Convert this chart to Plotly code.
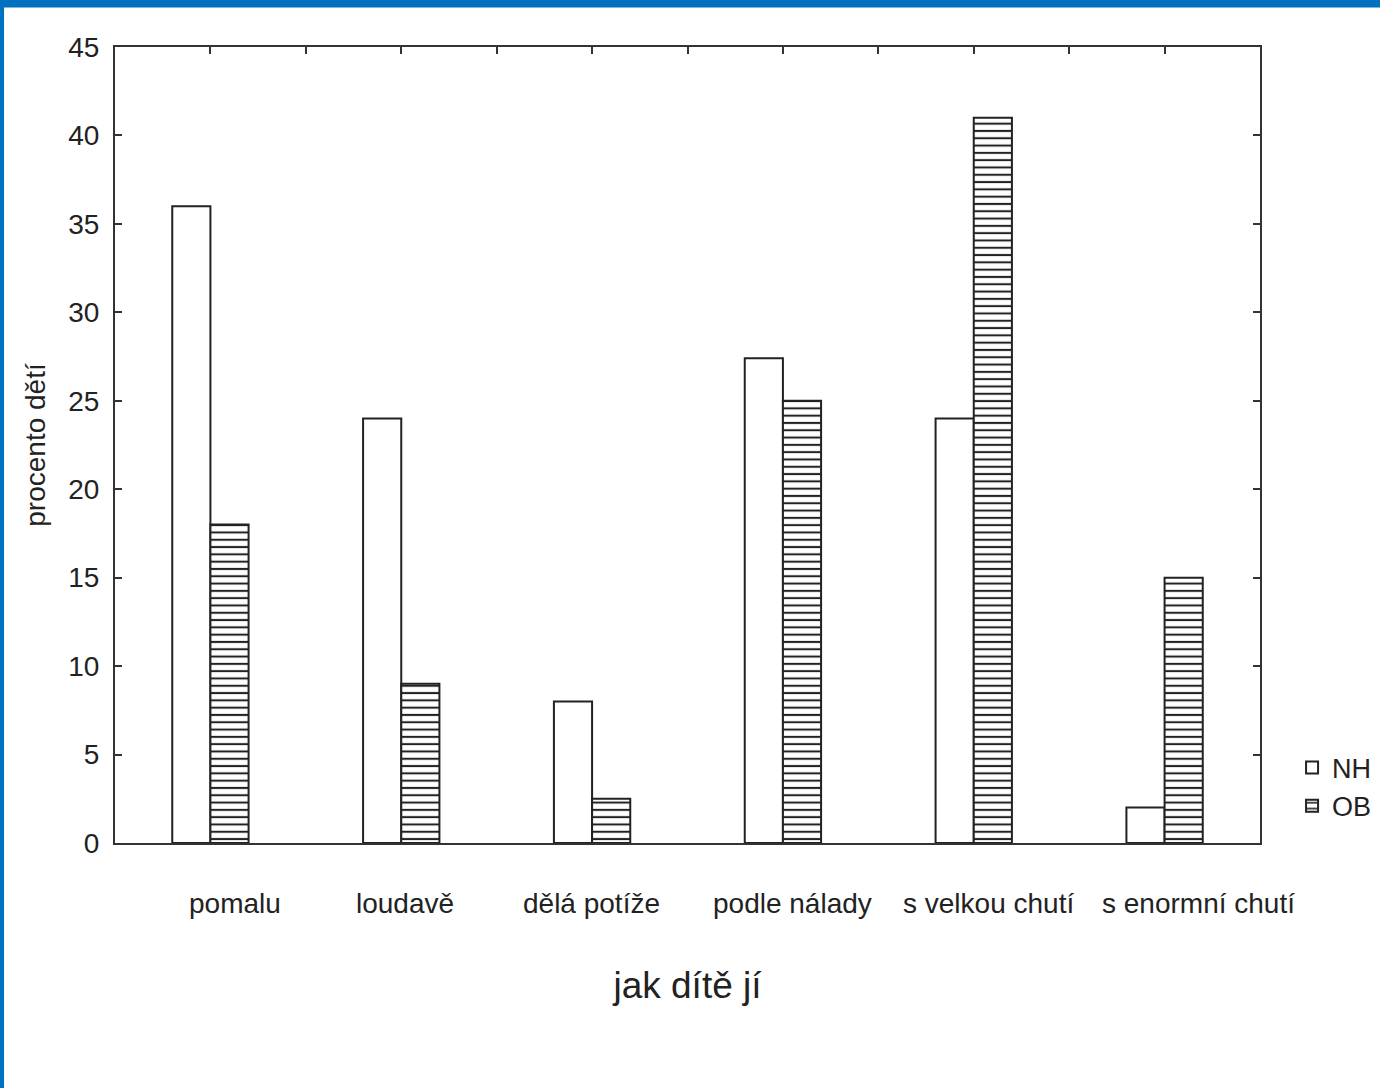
import plotly.graph_objects as go

categories = ["pomalu", "loudavě", "dělá potíže", "podle nálady", "s velkou chutí", "s enormní chutí"]
nh_values = [36, 24, 8, 27.4, 24, 2]
ob_values = [18, 9, 2.5, 25, 41, 15]
y_ticks = [0, 5, 10, 15, 20, 25, 30, 35, 40, 45]

# horizontal pixel offsets of the category labels (style only)
label_shift = [25, 4, -1, 10, 15, 34]

FONT = "Liberation Sans, Arial, sans-serif"
INK = "#222222"
LINE = "#333333"

fig = go.Figure()
fig.add_trace(go.Bar(
    name="NH", x=categories, y=nh_values,
    marker=dict(color="white", line=dict(color=INK, width=2)),
))
fig.add_trace(go.Bar(
    name="OB", x=categories, y=ob_values,
    marker=dict(color="white", line=dict(color=INK, width=2),
                pattern=dict(shape="-", size=7.3, solidity=0.28,
                             fgcolor=INK, bgcolor="white", fillmode="replace")),
))
# invisible trace to anchor the top tick axis
fig.add_trace(go.Scatter(x=[0], y=[0], xaxis="x2", mode="markers",
                         marker=dict(opacity=0), showlegend=False, hoverinfo="skip"))

annotations = [
    dict(x=c, y=0, xref="x", yref="paper", text=c, showarrow=False,
         xanchor="center", yanchor="middle", xshift=s, yshift=-60,
         font=dict(family=FONT, size=28, color=INK))
    for c, s in zip(categories, label_shift)
]

fig.update_layout(
    width=1380, height=1088,
    margin=dict(l=115, r=120, t=47, b=245, autoexpand=False),
    paper_bgcolor="white", plot_bgcolor="white",
    barmode="group", bargap=0.6, bargroupgap=0,
    font=dict(family=FONT, size=28, color=INK),
    showlegend=True,
    legend=dict(x=1.028, y=0.125, xanchor="left", yanchor="top",
                font=dict(size=27, color=INK), itemwidth=30,
                tracegroupgap=0, bgcolor="rgba(0,0,0,0)"),
    xaxis=dict(
        type="category", range=[-0.5, 5.5],
        showline=True, linecolor=LINE, linewidth=2, mirror=True,
        ticks="", showgrid=False, zeroline=False,
        showticklabels=False,
        title=dict(text="jak dítě jí", font=dict(size=37, color=INK), standoff=128),
    ),
    xaxis2=dict(
        overlaying="x", side="top", range=[-0.5, 5.5],
        tickmode="linear", tick0=-0.5, dtick=0.5,
        ticks="inside", ticklen=7, tickwidth=2, tickcolor=LINE,
        showticklabels=False, showgrid=False, zeroline=False, showline=False,
    ),
    yaxis=dict(
        range=[0, 45], tickvals=y_ticks,
        showline=True, linecolor=LINE, linewidth=2, mirror="ticks",
        ticks="inside", ticklen=7, tickwidth=2, tickcolor=LINE,
        showgrid=False, zeroline=False,
        tickfont=dict(size=28, color=INK), ticklabelstandoff=8,
        title=dict(text="procento dětí", font=dict(size=28, color=INK), standoff=14),
    ),
    annotations=annotations,
    shapes=[
        dict(type="rect", xref="paper", yref="paper",
             x0=-0.11, x1=1.2, y0=1.0495, y1=1.07,
             fillcolor="#0070C0", line=dict(width=0), layer="above"),
        dict(type="rect", xref="paper", yref="paper",
             x0=-0.11, x1=-0.0969, y0=-0.4, y1=1.07,
             fillcolor="#0070C0", line=dict(width=0), layer="above"),
    ],
)

fig.write_html("out.html", config={"displayModeBar": False},
               post_script="document.body.style.margin='0';")
